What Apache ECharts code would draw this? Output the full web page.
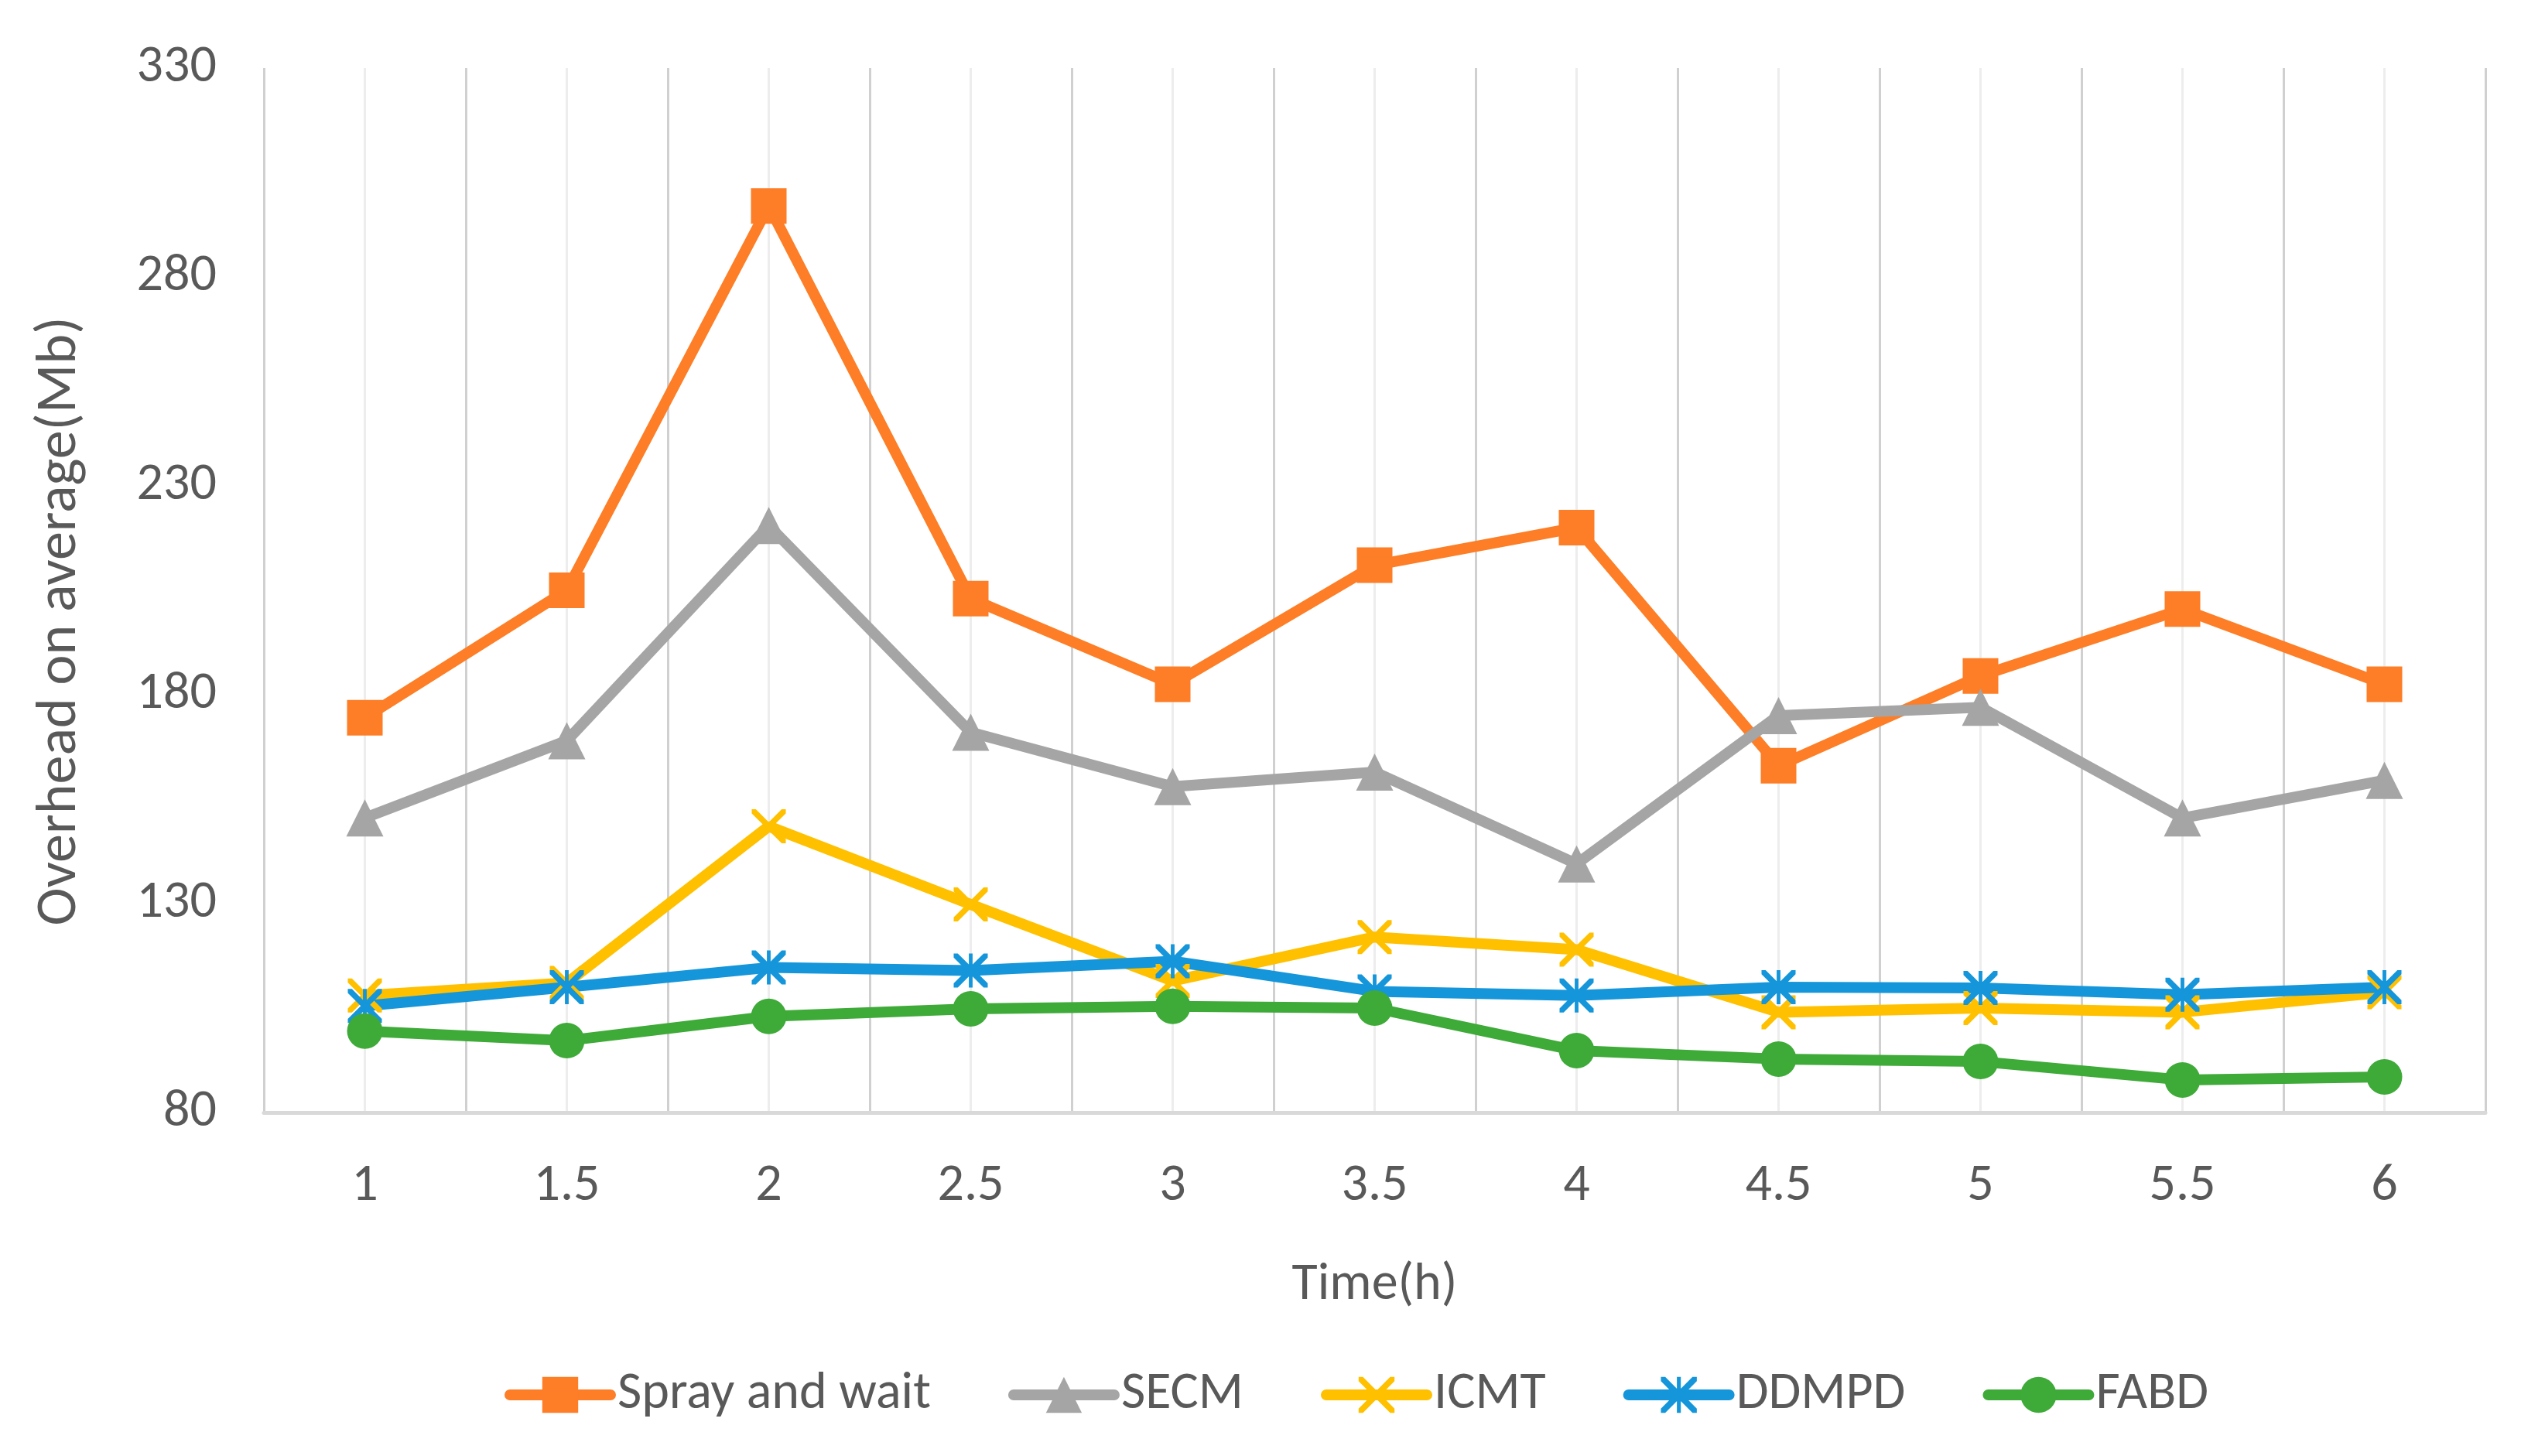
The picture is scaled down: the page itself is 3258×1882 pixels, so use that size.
<!DOCTYPE html>
<html>
<head>
<meta charset="utf-8">
<title>Overhead on average</title>
<script src="https://cdn.jsdelivr.net/npm/echarts@6/dist/echarts.min.js"></script>
<style>
  html, body { margin: 0; padding: 0; background: #fff; }
  #chart { width: 3258px; height: 1882px; }
</style>
</head>
<body>
<div id="chart"></div>
<script>
// data
var times = ['1', '1.5', '2', '2.5', '3', '3.5', '4', '4.5', '5', '5.5', '6'];
var sprayAndWait = [174.5, 205, 297, 203, 182.5, 211, 220, 163, 184.5, 200.5, 182.5];
var secm = [150.5, 169, 220.5, 171, 158, 161.5, 139.5, 175, 177, 150.5, 159.5];
var icmt = [108, 111, 148.5, 129.8, 111.5, 122, 119, 104, 105, 104, 108.8];
var ddmpd = [105.5, 110, 114.7, 114, 116.2, 109, 108, 110, 109.8, 108.2, 110];
var fabd = [99.5, 97.2, 103, 104.8, 105.4, 105, 94.8, 92.8, 92.2, 87.8, 88.5];
var yTicks = [80, 130, 180, 230, 280, 330];

var FONT = "Carlito, 'Liberation Sans Narrow', 'Open Sans', sans-serif";
var TXT = '#595959';

// x and asterisk markers (filled outlines)
var X_PATH = 'path://M0,0 L2.4,0 L10,7.6 L17.6,0 L20,0 L20,2.4 L12.4,10 L20,17.6 L20,20 L17.6,20 L10,12.4 L2.4,20 L0,20 L0,17.6 L7.6,10 L0,2.4 Z';
var STAR_PATH = 'path://M0,0 L2.4,0 L10,7.6 L17.6,0 L20,0 L20,2.4 L12.4,10 L20,17.6 L20,20 L17.6,20 L10,12.4 L2.4,20 L0,20 L0,17.6 L7.6,10 L0,2.4 Z M8.9,0 L11.1,0 L11.1,20 L8.9,20 Z';

function mkSeries(name, data, color, symbol, size) {
  return {
    name: name,
    type: 'line',
    data: data,
    xAxisIndex: 0,
    symbol: symbol,
    symbolSize: size,
    showAllSymbol: true,
    lineStyle: { color: color, width: 14 },
    itemStyle: { color: color },
    emphasis: { disabled: true },
    animation: false
  };
}

var chart = echarts.init(document.getElementById('chart'));
chart.setOption({
  backgroundColor: '#ffffff',
  grid: { left: 341, right: 46, top: 88, bottom: 444 },
  legend: {
    left: 647,
    top: 1764,
    itemWidth: 130,
    itemHeight: 58,
    itemGap: 100,
    lineStyle: { width: 14, cap: 'round' },
    textStyle: { fontFamily: FONT, fontSize: 68, color: TXT, padding: [0, 0, 0, 4] },
    data: ['Spray and wait', 'SECM', 'ICMT', 'DDMPD', 'FABD']
  },
  xAxis: [{
    type: 'category',
    data: times,
    boundaryGap: true,
    name: 'Time(h)',
    nameLocation: 'middle',
    nameGap: 190,
    nameTextStyle: { fontFamily: FONT, fontSize: 68, color: TXT },
    axisLine: { show: true, lineStyle: { color: '#d9d9d9', width: 5 } },
    axisTick: { show: false },
    axisLabel: { fontFamily: FONT, fontSize: 68, color: TXT, margin: 62 },
    splitLine: { show: true, lineStyle: { color: '#d0d0d0', width: 3 } }
  }, {
    // helper axis: light lines through each category centre
    type: 'category',
    data: times,
    boundaryGap: true,
    position: 'bottom',
    axisLine: { show: false },
    axisTick: { show: false },
    axisLabel: { show: false },
    splitLine: { show: true, alignWithLabel: true, lineStyle: { color: '#ededed', width: 3 } }
  }],
  yAxis: {
    type: 'value',
    min: yTicks[0],
    max: yTicks[yTicks.length - 1],
    interval: 50,
    name: 'Overhead on average(Mb)',
    nameLocation: 'middle',
    nameGap: 226,
    nameTextStyle: { fontFamily: FONT, fontSize: 74, color: TXT, padding: [0, 80, 0, 0] },
    axisLine: { show: false },
    axisTick: { show: false },
    axisLabel: { fontFamily: FONT, fontSize: 68, color: TXT, margin: 61 },
    splitLine: { show: false }
  },
  series: [
    mkSeries('Spray and wait', sprayAndWait, '#fd7e26', 'rect', 46),
    mkSeries('SECM', secm, '#a5a5a5', 'triangle', 48),
    mkSeries('ICMT', icmt, '#ffc000', X_PATH, 44),
    mkSeries('DDMPD', ddmpd, '#1596da', STAR_PATH, 44),
    mkSeries('FABD', fabd, '#3eaa38', 'circle', 46)
  ]
});
</script>
</body>
</html>
